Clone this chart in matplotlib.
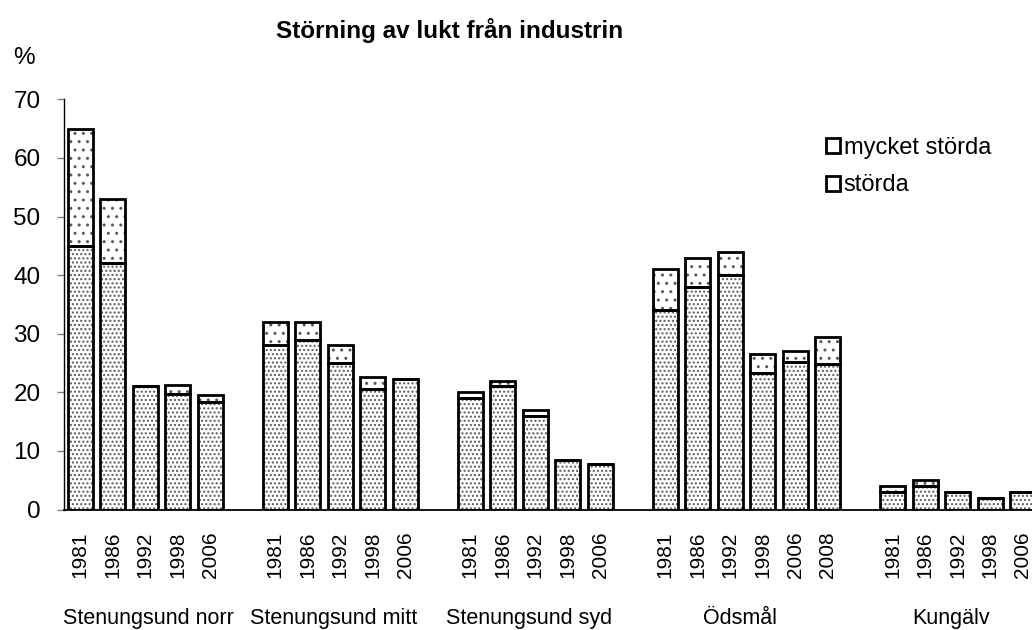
import matplotlib
matplotlib.use("Agg")
import matplotlib.pyplot as plt
import matplotlib.transforms as mtransforms
from matplotlib.patches import Patch

plt.rcParams['font.family'] = ['Liberation Sans', 'DejaVu Sans']
plt.rcParams['hatch.linewidth'] = 1.0

# grupos y años
grupos = ["Stenungsund norr", "Stenungsund mitt", "Stenungsund syd", "Ödsmål", "Kungälv"]
anios = [
    ["1981", "1986", "1992", "1998", "2006"],
    ["1981", "1986", "1992", "1998", "2006"],
    ["1981", "1986", "1992", "1998", "2006"],
    ["1981", "1986", "1992", "1998", "2006", "2008"],
    ["1981", "1986", "1992", "1998", "2006"],
]
# segmento inferior (störda) y superior (mycket störda), en %
storda = [
    [45, 42, 21, 19.7, 18.3],
    [28, 29, 25, 20.5, 22.3],
    [19, 21, 16, 8.4, 7.7],
    [34, 38, 40, 23.3, 25.2, 24.8],
    [3, 4, 3, 2, 3],
]
mycket_storda = [
    [20, 11, 0, 1.5, 1.2],
    [4, 3, 3, 2.1, 0],
    [1, 1, 1, 0, 0],
    [7, 5, 4, 3.2, 1.8, 4.6],
    [1, 1, 0, 0, 0],
]

titulo = "Störning av lukt från industrin"
etiqueta_y = "%"
leyenda = ["mycket störda", "störda"]

# posiciones: una ranura vacia entre grupos
pos = []
etiquetas = []
abajo = []
arriba = []
centros = []
x = 0
for g in range(len(grupos)):
    inicio = x
    for k in range(len(anios[g])):
        pos.append(x)
        etiquetas.append(anios[g][k])
        abajo.append(storda[g][k])
        arriba.append(mycket_storda[g][k])
        x += 1
    centros.append((inicio + x - 1) / 2)
    x += 1

fig = plt.figure(figsize=(10.32, 6.3), dpi=100)
ax = fig.add_axes([64 / 1032, (630 - 509.5) / 630, (1039 - 64) / 1032, (509.5 - 99.3) / 630])

ancho = 0.77
gris = "#5a5a5a"
# relleno con puntos (color gris), luego el contorno negro encima
ax.bar(pos, abajo, width=ancho, color="white", edgecolor=gris, linewidth=0, hatch="....")
ax.bar(pos, arriba, width=ancho, bottom=abajo, color="white", edgecolor=gris, linewidth=0, hatch="..")
ax.bar(pos, abajo, width=ancho, color="none", edgecolor="black", linewidth=2.0)
ax.bar(pos, arriba, width=ancho, bottom=abajo, color="none", edgecolor="black", linewidth=2.0)

ax.set_xlim(-0.5, x - 1.5)
ax.set_ylim(0, 70)
ax.set_yticks(range(0, 71, 10))
ax.tick_params(axis="y", labelsize=17.5, length=5, width=1, color="#808080", pad=12)
ax.set_xticks(pos)
ax.set_xticklabels(etiquetas, rotation=90, fontsize=15)
ax.tick_params(axis="x", length=0, pad=16)
ax.spines["top"].set_visible(False)
ax.spines["right"].set_visible(False)
ax.spines["left"].set_linewidth(1.0)
ax.spines["bottom"].set_linewidth(1.3)

trans = mtransforms.blended_transform_factory(ax.transData, fig.transFigure)
for g in range(len(grupos)):
    desplaz = 0.1 if g == 0 else -0.2
    ax.text(centros[g] + desplaz, 6 / 630, grupos[g], transform=trans,
            ha="center", va="baseline", fontsize=15.5, clip_on=False)

fig.text(450 / 1032, 1 - 38 / 630, titulo, ha="center", va="baseline",
         fontsize=17.5, fontweight="bold")
fig.text(24 / 1032, 1 - 64 / 630, etiqueta_y, ha="center", va="baseline", fontsize=17.5)

manijas = [Patch(facecolor="white", edgecolor="black", linewidth=2.0),
           Patch(facecolor="white", edgecolor="black", linewidth=2.0, hatch=".")]
fig.legend(manijas, leyenda, loc="upper left", bbox_to_anchor=(826 / 1032, 1 - 137 / 630),
           frameon=False, fontsize=17, handlelength=0.6, handleheight=0.6,
           handletextpad=0.15, labelspacing=0.65, borderpad=0, borderaxespad=0)

fig.savefig("out.png", dpi=100)
